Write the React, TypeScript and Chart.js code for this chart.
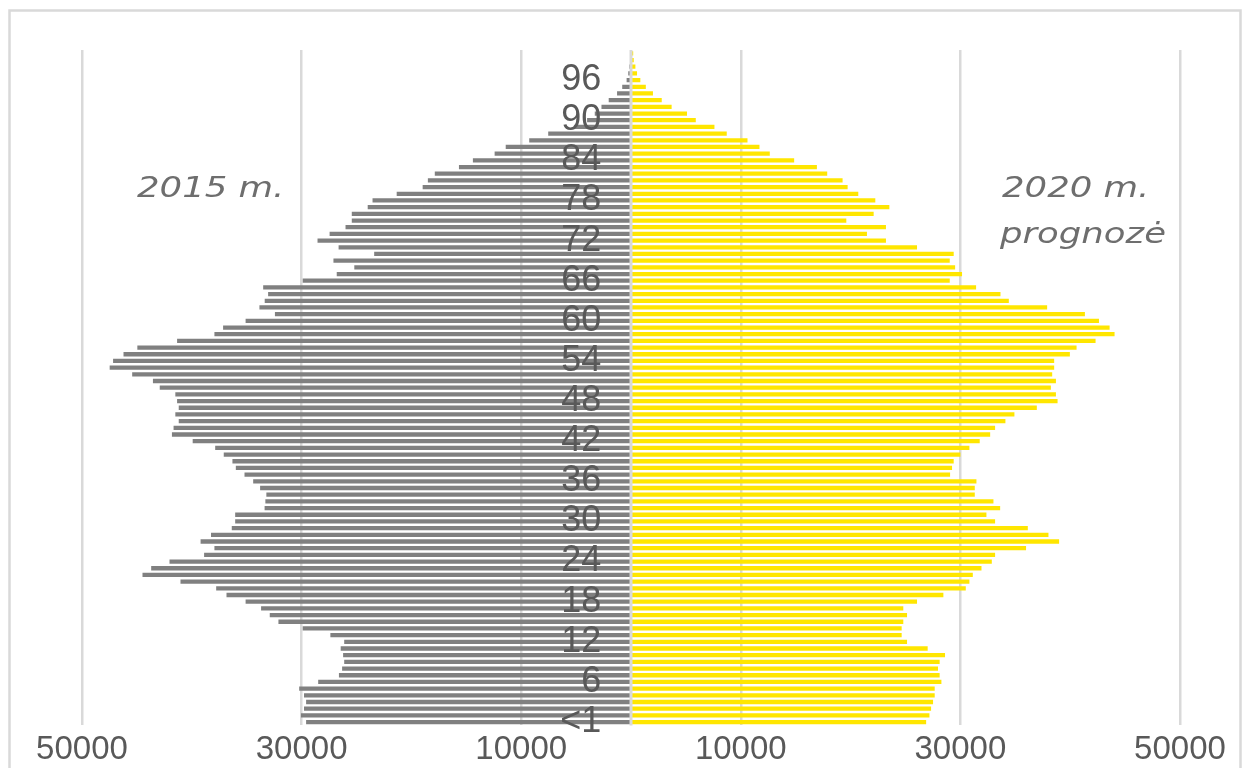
import React, { useEffect, useRef } from 'react';
import { Chart, registerables } from 'chart.js';

Chart.register(...registerables);

// Age groups: "<1", 1 ... 100
const AGE_LABELS: string[] = ['<1', ...Array.from({ length: 100 }, (_, k) => String(k + 1))];
const LABEL_EVERY = 6;

// 2015 population by age (index 0 = "<1")
const POP_2015: number[] = [
  29590, 30060, 29780, 29590, 29780, 30220, 28490, 26600, 26310, 26120,
  26220, 26440, 26120, 27380, 29900, 32110, 32900, 33690, 35100, 36840,
  37780, 41030, 44490, 43700, 42030, 38880, 37940, 39200, 38250, 36360,
  36050, 36050, 33370, 33300, 33210, 33780, 34410, 35200, 35990, 36300,
  37090, 37870, 39920, 41810, 41660, 41190, 41500, 41190, 41340, 41500,
  42920, 43540, 45430, 47480, 47170, 46220, 44960, 41340, 37940, 37150,
  35100, 32430, 33840, 33360, 33050, 33500, 29900, 26800, 25200, 27100,
  23390, 26630, 28550, 27450, 26000, 25430, 25430, 23980, 23540, 21340,
  18975, 18500, 17870, 15670, 14400, 12420, 11410, 9270, 7540, 5200,
  4000, 3300, 2690, 2030, 1270, 800, 400, 250, 150, 90,
  60,
];

// 2020 forecast by age (index 0 = "<1")
const POP_2020: number[] = [
  26880, 27180, 27330, 27510, 27660, 27660, 28270, 28110, 27960, 28110,
  28600, 27020, 25140, 24650, 24650, 24800, 25140, 24800, 26050, 28450,
  30490, 30820, 31130, 31920, 32860, 33160, 35980, 38990, 38020, 36140,
  33160, 32370, 33620, 33010, 31310, 31310, 31460, 29060, 29240, 29390,
  30000, 30820, 31760, 32710, 33160, 34100, 34920, 36960, 38850, 38700,
  38240, 38700, 38360, 38540, 38540, 39970, 40580, 42310, 44040, 43590,
  42620, 41340, 37900, 34410, 33650, 31430, 29030, 30150, 29520, 29030,
  29390, 26050, 23220, 21490, 23220, 19610, 22100, 23530, 22250, 20700,
  19730, 19270, 17870, 16930, 14860, 12640, 11700, 10610, 8720, 7600,
  5900, 5100, 3700, 2800, 2000, 1350, 850, 550, 400, 250,
  200,
];

const X_MIN = -50000;
const X_MAX = 50000;
const X_STEP = 20000;

const LABEL_LEFT = '2015 m.';
const LABEL_RIGHT_1 = '2020 m.';
const LABEL_RIGHT_2 = 'prognozė';

const GRAY = '#808080';
const YELLOW = '#FFE600';
const GRID = '#d9d9d9';
const TEXT = '#595959';

const framePlugin = {
  id: 'frame',
  beforeDraw(chart: any) {
    const ctx = chart.ctx;
    ctx.save();
    ctx.fillStyle = '#ffffff';
    ctx.fillRect(0, 0, chart.width, chart.height);
    ctx.strokeStyle = GRID;
    ctx.lineWidth = 2.5;
    ctx.strokeRect(9.5, 10.5, 1231, 800);
    ctx.restore();
  },
};

const zeroLinePlugin = {
  id: 'zeroLine',
  afterDatasetsDraw(chart: any) {
    const { ctx, chartArea, scales } = chart;
    const x = scales.x.getPixelForValue(0);
    ctx.save();
    ctx.strokeStyle = GRID;
    ctx.lineWidth = 3;
    ctx.beginPath();
    ctx.moveTo(x, chartArea.top);
    ctx.lineTo(x, chartArea.bottom);
    ctx.stroke();
    ctx.restore();
  },
};

const annotationPlugin = {
  id: 'annotations',
  afterDraw(chart: any) {
    const ctx = chart.ctx;
    const drawStretched = (text: string, x: number, y: number) => {
      ctx.save();
      ctx.translate(x, y);
      ctx.scale(1.29, 1);
      ctx.font = 'italic 27.5px "DejaVu Sans"';
      ctx.fillStyle = '#6e6e6e';
      ctx.textAlign = 'left';
      ctx.textBaseline = 'alphabetic';
      ctx.fillText(text, 0, 0);
      ctx.restore();
    };
    drawStretched(LABEL_LEFT, 137, 197);
    drawStretched(LABEL_RIGHT_1, 1002, 197);
    drawStretched(LABEL_RIGHT_2, 1000, 243);
  },
};

export default function App() {
  const canvasRef = useRef<HTMLCanvasElement | null>(null);

  useEffect(() => {
    const canvas = canvasRef.current;
    if (!canvas) return;
    const chart = new Chart(canvas, {
      type: 'bar',
      data: {
        labels: AGE_LABELS,
        datasets: [
          {
            label: '2015 m.',
            data: POP_2015.map((v) => -v),
            backgroundColor: GRAY,
            borderWidth: 0,
            barPercentage: 0.64,
            categoryPercentage: 1,
          },
          {
            label: '2020 m. prognozė',
            data: POP_2020,
            backgroundColor: YELLOW,
            borderWidth: 0,
            barPercentage: 0.64,
            categoryPercentage: 1,
          },
        ],
      },
      plugins: [framePlugin, zeroLinePlugin, annotationPlugin],
      options: {
        indexAxis: 'y',
        responsive: false,
        animation: false,
        layout: { padding: { left: 82, right: 63, top: 50, bottom: -7 } },
        plugins: {
          legend: { display: false },
          tooltip: { enabled: false },
          title: { display: false },
        },
        scales: {
          x: {
            type: 'linear',
            position: 'bottom',
            stacked: true,
            min: X_MIN,
            max: X_MAX,
            grid: { color: GRID, lineWidth: 2.5, drawTicks: false },
            border: { display: false },
            ticks: {
              stepSize: X_STEP,
              padding: 5,
              color: TEXT,
              font: { family: '"Liberation Sans", Arial, sans-serif', size: 33 },
              callback: (v: any) => String(Math.abs(Number(v))),
            },
          },
          y: {
            type: 'category',
            position: { x: -2700 } as any,
            stacked: true,
            reverse: true,
            grid: { display: false, drawTicks: false },
            border: { display: false },
            ticks: {
              z: 1,
              autoSkip: false,
              padding: 0,
              color: TEXT,
              font: { family: '"Liberation Sans", Arial, sans-serif', size: 36 },
              callback: (_v: any, index: number) => (index % LABEL_EVERY === 0 ? AGE_LABELS[index] : ''),
            },
          },
        },
      },
    } as any);
    return () => chart.destroy();
  }, []);

  return (
    <div style={{ position: 'absolute', left: 0, top: 0, width: 1243, height: 768, background: '#fff' }}>
      <canvas ref={canvasRef} width={1243} height={768} style={{ width: 1243, height: 768, display: 'block' }} />
    </div>
  );
}
